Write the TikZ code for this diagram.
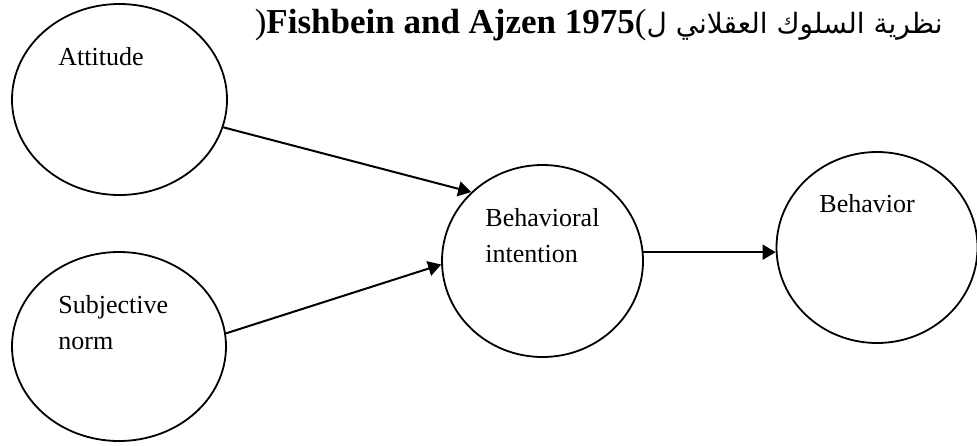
\documentclass[tikz,border=0pt]{standalone}
\usepackage{fontspec}
\setmainfont{Liberation Serif}
\newfontfamily\arabicfont[Script=Arabic]{DejaVu Sans}
\usetikzlibrary{shapes.geometric,arrows.meta}
\TeXXeTstate=1

\tikzset{
  construct/.style={draw, ellipse, line width=0.9pt, inner sep=0pt},
  lbl/.style={anchor=base west, inner sep=0pt, align=left,
    font=\fontsize{13}{18}\selectfont},
  path/.style={line width=1pt, -{Triangle[length=6.5pt,width=7.5pt]}}
}

\begin{document}
\begin{tikzpicture}[x=0.5pt, y=-0.5pt]
  \useasboundingbox (0,0) rectangle (977,445);

  % the four constructs
  \node [construct, minimum width=107.5pt, minimum height=95.5pt] (att) at (119.5,99.5) {};
  \node [construct, minimum width=107pt, minimum height=94.5pt] (sn) at (119,346.5) {};
  \node [construct, minimum width=100.5pt, minimum height=96pt] (bi) at (542.5,261) {};
  \node [construct, minimum width=100.5pt, minimum height=95.5pt] (bh) at (877,247.5) {};

  % labels (base = last line)
  \node [lbl] (attTxt) at (58,65) {Attitude};
  \node [lbl] (snTxt) at (58,349) {Subjective\\norm};
  \node [lbl] (biTxt) at (485,262) {Behavioral\\intention};
  \node [lbl] (bhTxt) at (819,212) {Behavior};

  \node [anchor=base east, inner sep=0pt] (title) at (943,33)
    {\fontsize{17.5}{20}\selectfont{\mdseries)}\textbf{Fishbein and Ajzen 1975}{\mdseries(}%
     \arabicfont\fontsize{14}{20}\selectfont\beginR نظرية السلوك العقلاني ل\endR};

  \draw [path] (att.-15) -- (bi.136);
  \draw [path] (sn.7) -- (bi.182);
  \draw [path] (bi.5) -- (bi.5 -| bh.west);
\end{tikzpicture}
\end{document}
